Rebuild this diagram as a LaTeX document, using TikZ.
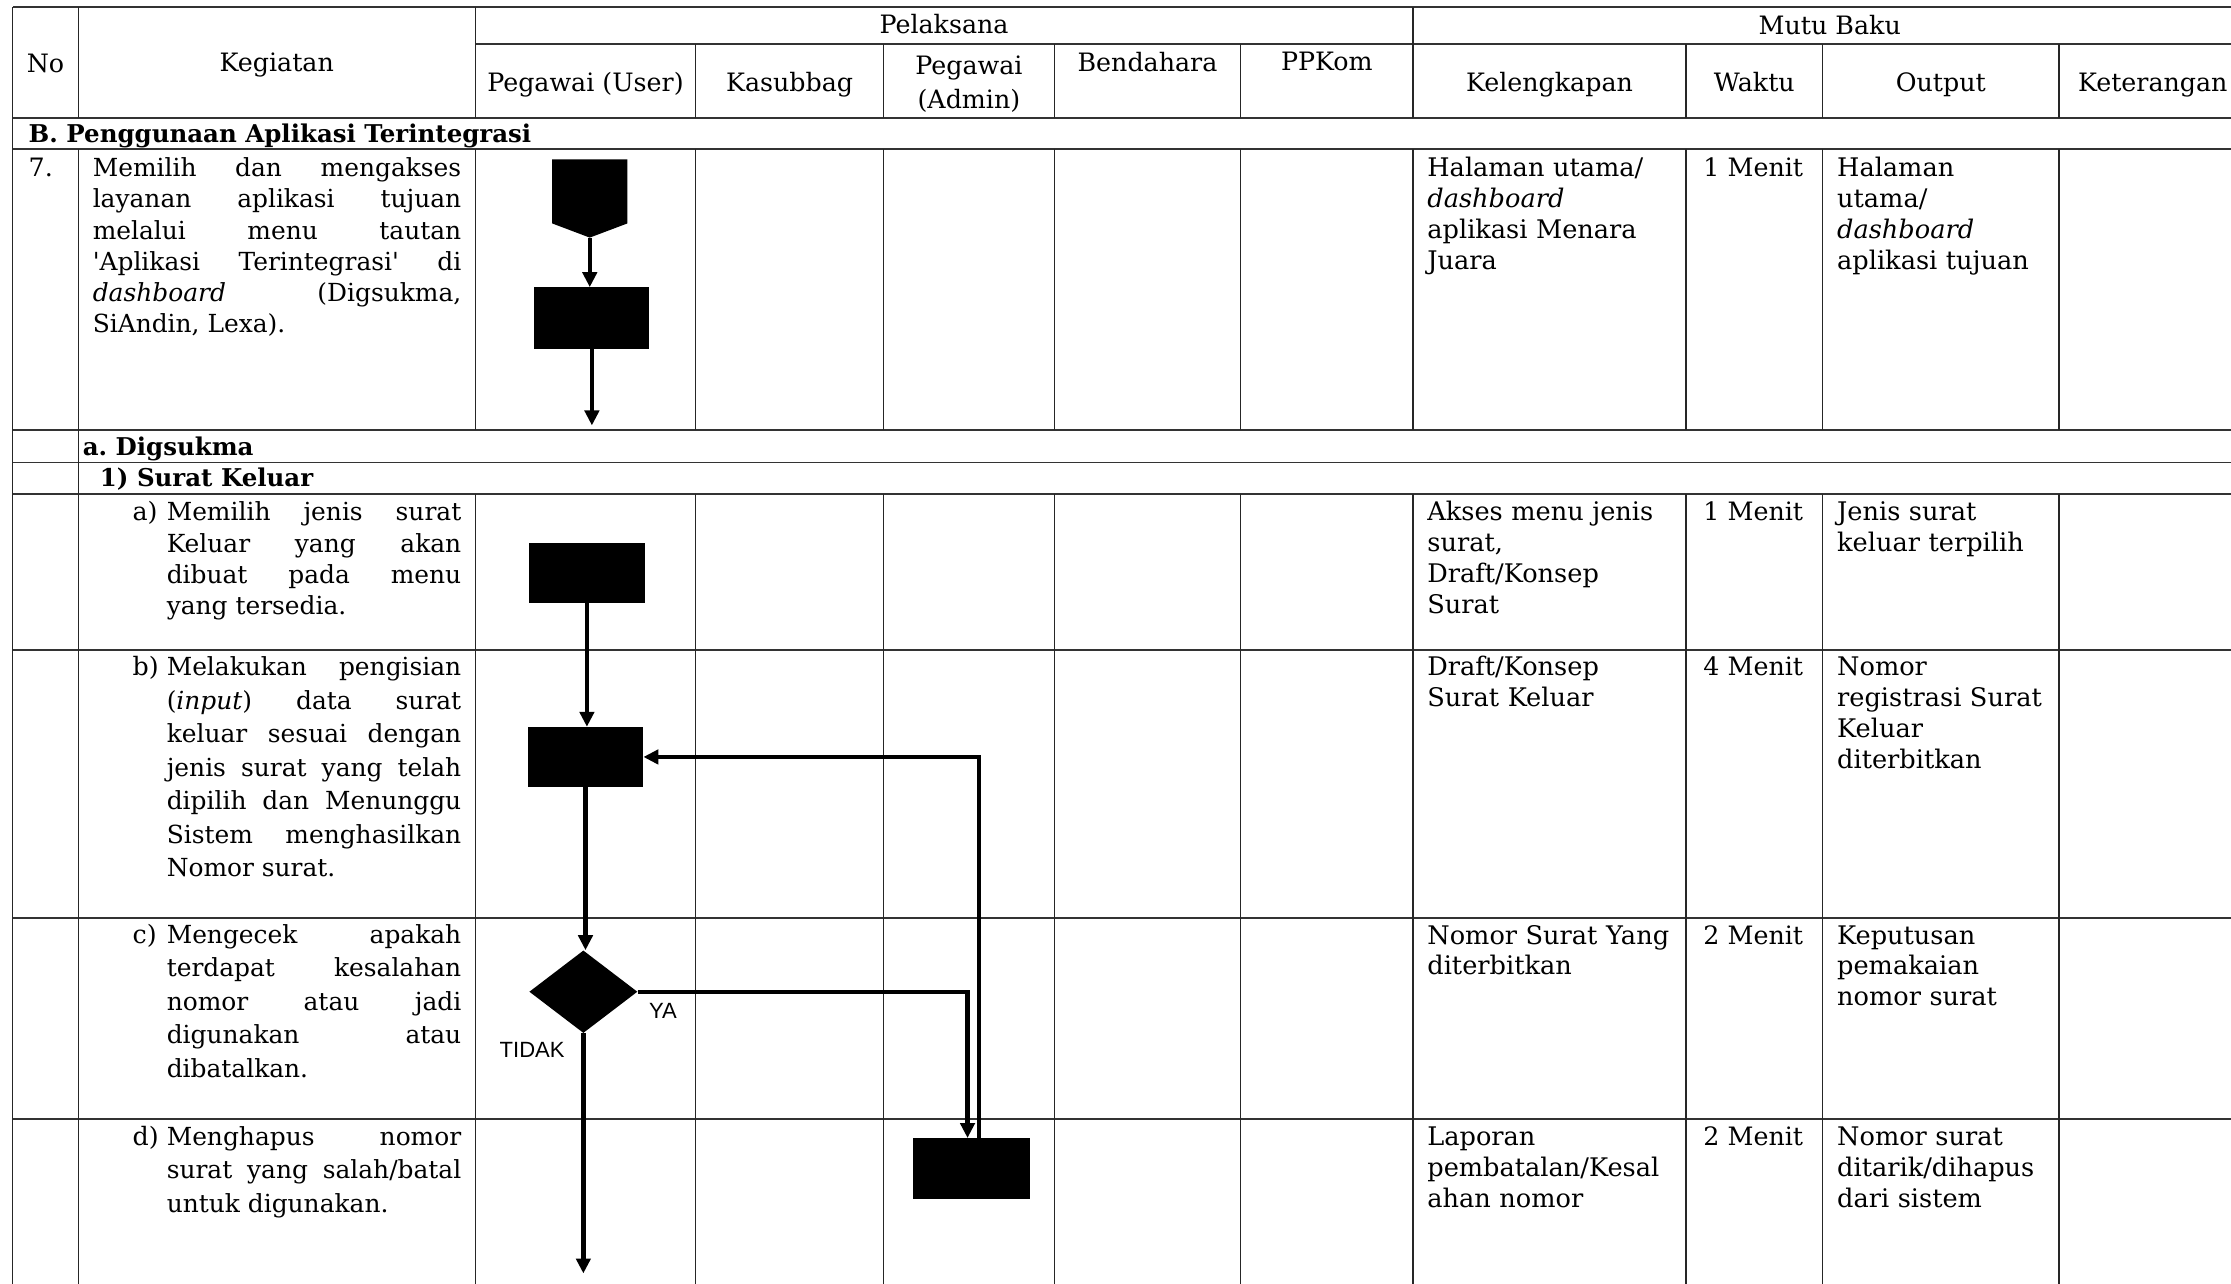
\documentclass[tikz,border=0pt]{standalone}
\usepackage{fontspec}
\setmainfont{DejaVu Serif}
\setsansfont{Liberation Sans}
\usetikzlibrary{arrows.meta,shapes.geometric}
\begin{document}
\frenchspacing
\begin{tikzpicture}[x=1pt,y=-1pt,
  vline/.style={draw=black!85,line width=0.9pt},
  hline/.style={draw=black!80,line width=1.3pt},
  body/.style={inner sep=0pt,font=\fontsize{17.8}{22}\selectfont},
  lt/.style={body,anchor=base west},
  ct/.style={body,anchor=base},
  bt/.style={body,anchor=base west,font=\fontsize{17.2}{22}\selectfont\bfseries},
  para/.style={body,anchor=base west,align=justify,text width=#1,font=\fontsize{17.5}{23.5}\selectfont},
  mutu/.style={body,anchor=base west,align=left,text width=230pt,font=\fontsize{18}{21.7}\selectfont},
  box/.style={rectangle,fill=black,draw=none,minimum width=81pt,minimum height=42pt,inner sep=0pt},
  dec/.style={diamond,fill=black,draw=none,minimum width=76pt,minimum height=58pt,inner sep=0pt},
  flow/.style={line width=3pt,draw=black},
  arr/.style={flow,-{Triangle[length=10.5pt,width=10pt]}},
  lab/.style={inner sep=0pt,anchor=base west,font=\sffamily\fontsize{15.5}{18}\selectfont},
]
\useasboundingbox (0,0) rectangle (1568,902.4);
\clip (0,0) rectangle (1568,902.4);
\fill[white] (0,0) rectangle (1568,902.4);

% ---------- table grid ----------
\foreach \y in {5,83,105,302,325,347,457,645,786.5} \draw[hline] (9,\y) -- (1580,\y);
\draw[hline] (334,31) -- (1580,31);
\draw[vline] (9,5) -- (9,903);
\foreach \x in {55,334,993} \draw[vline] (\x,5) -- (\x,83);
\draw[vline] (55,105) -- (55,903);
\foreach \x in {489,621,741,872,1185,1281,1447} \draw[vline] (\x,31) -- (\x,83);
\foreach \x in {334,489,621,741,872,993,1185,1281,1447} {
  \draw[vline] (\x,105) -- (\x,302);
  \draw[vline] (\x,347) -- (\x,903);
}

% ---------- header ----------
\node[ct] (hNo) at (32,51) {No};
\node[ct] (hKeg) at (194.5,50.5) {Kegiatan};
\node[ct] (hPel) at (663.5,23.5) {Pelaksana};
\node[ct] (hMutu) at (1286,24) {Mutu Baku};
\node[ct] (hUser) at (411.5,64.4) {Pegawai (User)};
\node[ct] (hKas) at (555,64.4) {Kasubbag};
\node[ct,text width=110pt,align=center,font=\fontsize{17.8}{23.5}\selectfont] (hAdm) at (681,52.5) {Pegawai\\(Admin)};
\node[ct] (hBen) at (806.5,50) {Bendahara};
\node[ct] (hPPK) at (932.5,49.5) {PPKom};
\node[ct] (hKel) at (1089,64.4) {Kelengkapan};
\node[ct] (hWak) at (1233,64.4) {Waktu};
\node[ct] (hOut) at (1364,64.4) {Output};
\node[ct] (hKet) at (1513,64.4) {Keterangan};

% ---------- section titles ----------
\node[bt] (secB) at (20,100.5) {B. Penggunaan Aplikasi Terintegrasi};
\node[bt] (secA) at (58,320) {a. Digsukma};
\node[bt] (sec1) at (70,342) {1) Surat Keluar};

% ---------- row 7 ----------
\node[lt] (n7) at (20,124) {7.};
\node[para=259pt,font=\fontsize{17.5}{22}\selectfont] (k7) at (65,124)
  {Memilih dan mengakses\linebreak layanan aplikasi tujuan\linebreak melalui menu tautan\linebreak
   \textquotesingle Aplikasi Terintegrasi\textquotesingle{} di\linebreak \textit{dashboard} (Digsukma,\linebreak SiAndin, Lexa).};
\node[mutu] (l7) at (1003,124) {Halaman utama/\\\textit{dashboard}\\aplikasi Menara\\Juara};
\node[lt] (w7) at (1197,124) {1 Menit};
\node[mutu] (o7) at (1291,124) {Halaman\\utama/\\\textit{dashboard}\\aplikasi tujuan};

% ---------- row a ----------
\node[lt] (na) at (93,366) {a)};
\node[para=207pt,font=\fontsize{17.5}{22}\selectfont] (ka) at (117,366)
  {Memilih jenis surat\linebreak Keluar yang akan\linebreak dibuat pada menu\linebreak yang tersedia.};
\node[mutu] (la) at (1003,366) {Akses menu jenis\\surat,\\Draft/Konsep\\Surat};
\node[lt] (wa) at (1197,366) {1 Menit};
\node[mutu] (oa) at (1291,366) {Jenis surat\\keluar terpilih};

% ---------- row b ----------
\node[lt] (nb) at (93,475) {b)};
\node[para=207pt] (kb) at (117,475)
  {Melakukan pengisian\linebreak (\textit{input}) data surat\linebreak keluar sesuai dengan\linebreak jenis surat yang telah\linebreak
   dipilih dan Menunggu\linebreak Sistem menghasilkan\linebreak Nomor surat.};
\node[mutu] (lb) at (1003,475) {Draft/Konsep\\Surat Keluar};
\node[lt] (wb) at (1197,475) {4 Menit};
\node[mutu] (ob) at (1291,475) {Nomor\\registrasi Surat\\Keluar\\diterbitkan};

% ---------- row c ----------
\node[lt] (nc) at (93,663) {c)};
\node[para=207pt] (kc) at (117,663)
  {Mengecek apakah\linebreak terdapat kesalahan\linebreak nomor atau jadi\linebreak digunakan atau\linebreak dibatalkan.};
\node[mutu] (lc) at (1003,663.5) {Nomor Surat Yang\\diterbitkan};
\node[lt] (wc) at (1197,663.5) {2 Menit};
\node[mutu] (oc) at (1291,663.5) {Keputusan\\pemakaian\\nomor surat};

% ---------- row d ----------
\node[lt] (nd) at (93,805) {d)};
\node[para=207pt] (kd) at (117,805)
  {Menghapus nomor\linebreak surat yang salah/batal\linebreak untuk digunakan.};
\node[mutu] (ld) at (1003,805) {Laporan\\pembatalan/Kesal\\ahan nomor};
\node[lt] (wd) at (1197,805) {2 Menit};
\node[mutu] (od) at (1291,805) {Nomor surat\\ditarik/dihapus\\dari sistem};

% ---------- flowchart ----------
\coordinate (opctip) at (414.5,167);
\fill[black] (388,112) -- (441,112) -- (441,157) -- (opctip) -- (388,157) -- cycle;
\node[box,minimum height=43pt] (r1) at (415.5,223.5) {};
\node[box] (ra) at (412.5,402.5) {};
\node[box] (rb) at (411.5,532) {};
\node[dec] (dia) at (410,697) {};
\node[box,minimum width=82pt,minimum height=43pt] (rd) at (683,821.5) {};
\coordinate (end1) at (416,299);
\coordinate (end2) at (410,895);

\draw[arr] (opctip) -- (opctip |- r1.north);
\draw[arr] ([xshift=0.5pt]r1.south) -- (end1);
\draw[arr] (ra.south) -- (ra.south |- rb.north);
\draw[arr] (rb.south) -- (rb.south |- dia.north);
\draw[arr] (dia.east) -| ([xshift=-3pt]rd.north);
\draw[arr] ([xshift=5pt]rd.north) |- (rb.east);
\draw[arr] (dia.south) -- (end2);

\node[lab] (ya) at (456,716) {YA};
\node[lab] (tidak) at (351,743) {TIDAK};
\end{tikzpicture}
\end{document}
